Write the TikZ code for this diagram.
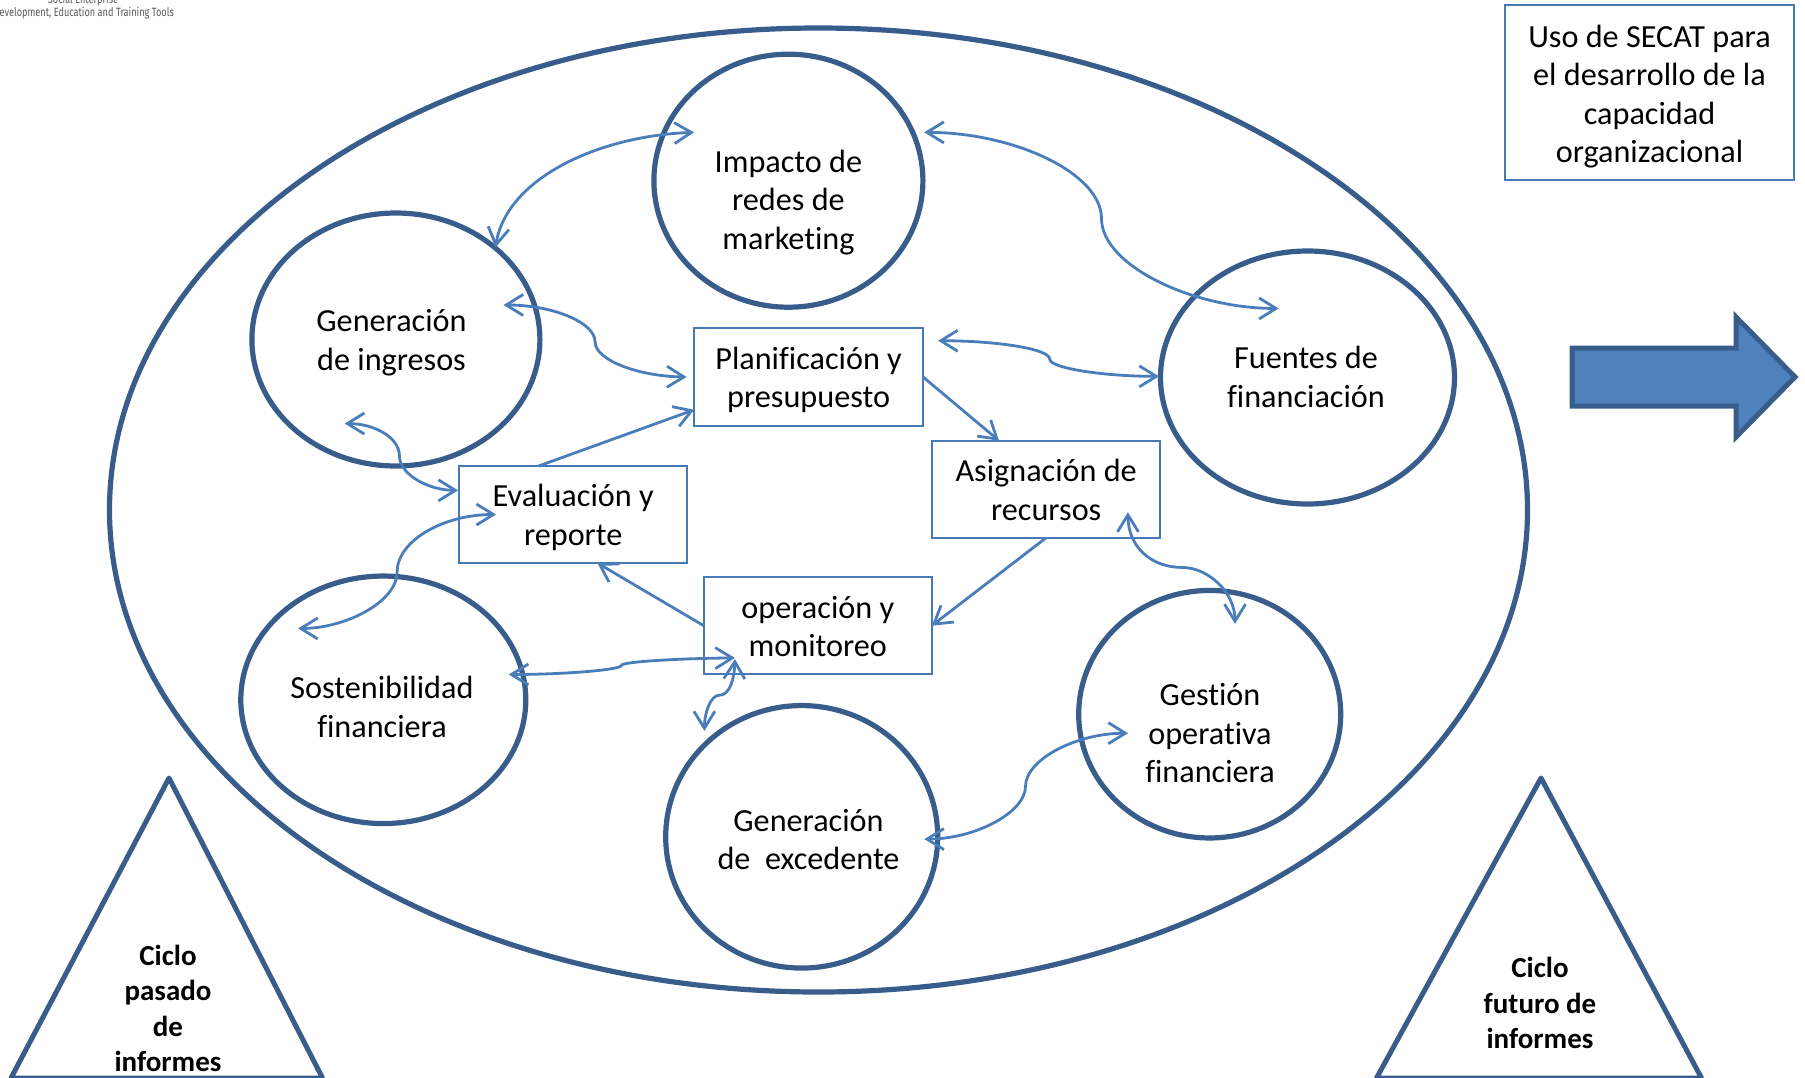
\documentclass[tikz,border=0pt]{standalone}
\usepackage{fontspec}
\usepackage{graphicx}
\setmainfont[Ligatures=NoCommon]{Carlito}
\newfontfamily\logofont{Fira Sans}
\usetikzlibrary{calc,arrows.meta}
\definecolor{ringblue}{HTML}{385D8A}
\definecolor{linkblue}{HTML}{4A7EBB}
\definecolor{fillblue}{HTML}{4F81BD}
\tikzset{
  x=1pt,y=-1pt,
  ring/.style={draw=ringblue,line width=5.2pt,ellipse,outer sep=0pt,inner sep=0pt,align=center,
    font=\fontsize{32.2}{38.5}\selectfont},
  labelbox/.style={draw=linkblue!85!ringblue,line width=2.4pt,rectangle,outer sep=0pt,inner sep=0pt,align=center,
    font=\fontsize{32.2}{38.5}\selectfont},
  ringline/.style={draw=ringblue,line width=5pt,line join=round},
  cycletext/.style={align=center,font=\bfseries\fontsize{29}{35.2}\selectfont},
  ringtext/.style={align=center,font=\fontsize{32.2}{38.5}\selectfont},
  biarrow/.style={draw=linkblue,line width=2.8pt,{Straight Barb[length=17pt,width=21pt]}-{Straight Barb[length=17pt,width=21pt]}},
  onearrow/.style={draw=linkblue,line width=2.8pt,-{Straight Barb[length=17pt,width=21pt]}},
}
\usetikzlibrary{shapes.geometric}
\begin{document}
\begin{tikzpicture}
\useasboundingbox (0,0) rectangle (1805,1077);
\clip (0,0) rectangle (1805,1077);
\fill[white] (0,0) rectangle (1805,1077);

% logo text
\node[anchor=base,font=\logofont\fontsize{12}{14}\selectfont,text=black!65] (logoa) at (83,3) {\scalebox{.765}[1]{Social Enterprise}};
\node[anchor=base east,font=\logofont\fontsize{12}{14}\selectfont,text=black!65,inner sep=0pt] (logob) at (174,16) {\scalebox{.765}[1]{Development, Education and Training Tools}};

% outer ellipse
\node[ring,minimum width=1418pt,minimum height=964pt] (outer) at (818.5,510) {};

% circles
\node[ring,minimum width=269pt,minimum height=253pt] (imp) at (788.4,180.7) {};
\node[ring,minimum width=288pt,minimum height=253pt] (gen) at (395.9,339.5) {};
\node[ring,minimum width=294pt,minimum height=253pt] (fue) at (1307.5,377.5) {};
\node[ring,minimum width=285pt,minimum height=247.5pt] (sos) at (383.3,699.8) {};
\node[ring,minimum width=272pt,minimum height=262.5pt] (exc) at (801.7,836.8) {};
\node[ring,minimum width=262pt,minimum height=247.5pt] (ges) at (1209.7,714.2) {};

% circle labels
\node[ringtext] (impt) at (788.4,202.5) {Impacto de\\redes de\\marketing};
\node[ringtext] (gent) at (391.5,342.5) {Generación\\de ingresos};
\node[ringtext] (fuet) at (1306,377) {Fuentes de\\financiación};
\node[ringtext] (sost) at (382,707) {Sostenibilidad\\financiera};
\node[ringtext] (exct) at (808.5,839.5) {Generación\\de\ \ excedente};
\node[ringtext] (gest) at (1210,733.5) {Gestión\\operativa\\financiera};

% boxes
\node[labelbox,minimum width=229pt,minimum height=98pt] (plan) at (808.6,377) {};
\node[ringtext] (plant) at (808.6,380) {Planificación y\\presupuesto};
\node[labelbox,minimum width=228pt,minimum height=97pt] (eva) at (573.2,514.5) {};
\node[ringtext] (evat) at (573.2,517.5) {Evaluación y\\reporte};
\node[labelbox,minimum width=228pt,minimum height=97pt] (asi) at (1046.2,489.2) {};
\node[ringtext] (asit) at (1046.2,490) {Asignación de\\recursos};
\node[labelbox,minimum width=228pt,minimum height=97pt] (ope) at (817.8,625.7) {};
\node[ringtext] (opet) at (817.8,626.5) {operación y\\monitoreo};
\node[labelbox,minimum width=289pt,minimum height=175pt] (secat) at (1649.5,92.5) {};
\node[ringtext] (secatt) at (1649.5,96.5) {Uso de SECAT para\\el desarrollo de la\\capacidad\\organizacional};

% block arrow
\draw[ringline,fill=fillblue,line width=5pt,line join=miter] (1572,348) -- (1736,348) -- (1736,317) -- (1795,377) -- (1736,437) -- (1736,406) -- (1572,406) -- cycle;

% triangles
\draw[ringline] (169,778) -- (11,1078) -- (322.5,1078) -- cycle;
\draw[ringline] (1541,778) -- (1376.5,1078) -- (1701.5,1078) -- cycle;
\node[cycletext] (pasado) at (168,1008.5) {Ciclo\\pasado\\de\\informes};
\node[cycletext] (futuro) at (1540,1003) {Ciclo\\futuro de\\informes};

% connectors, in units of the overview
\begin{scope}[x=1.151pt,y=-1.151pt]
\coordinate (e1a) at ($(imp)+(-82,-42)$);
\coordinate (e1b) at ($(gen)+(86.5,-80)$);
\coordinate (e2a) at ($(imp)+(118,-42)$);
\coordinate (e2b) at ($(fue)+(-25,-60)$);
\coordinate (e3a) at ($(gen)+(93.5,-30)$);
\coordinate (e3b) at ($(plan)+(-106,0)$);
\coordinate (e4a) at ($(plan)+(112.5,-31.5)$);
\coordinate (e4b) at ($(fue)+(-129,-1)$);
\coordinate (e5a) at ($(gen)+(-44.5,73)$);
\coordinate (e5b) at ($(eva)+(-100,-21)$);
\coordinate (e6a) at ($(eva)+(-67,0)$);
\coordinate (e6b) at ($(sos)+(-74,-62)$);
\coordinate (e7a) at ($(ope)+(-72,28)$);
\coordinate (e7b) at ($(sos)+(109,-22)$);
\coordinate (e8a) at ($(ope)+(-72,29)$);
\coordinate (e8b) at ($(exc)+(-84.5,-92)$);
\coordinate (e9a) at ($(ges)+(-71,16.5)$);
\coordinate (e9b) at ($(exc)+(106.5,2)$);
\coordinate (e10a) at ($(asi)+(71,20)$);
\coordinate (e10b) at ($(ges)+(22,-78.5)$);

\draw[biarrow] (e1a) .. controls (520,118) and (440,155) .. (e1b);
\draw[biarrow] (e2a) .. controls (880,115) and (957,150) .. (957,190) .. controls (957,230) and (1035,268) .. (e2b);
\draw[biarrow] (e3a) .. controls (480,265) and (517,280) .. (517,297) .. controls (517,313) and (555,327) .. (e3b);
\draw[biarrow] (e4a) .. controls (865,296) and (912,303) .. (912,312) .. controls (912,320) and (960,327) .. (e4b);
\draw[biarrow] (e5a) .. controls (325,368) and (347,380) .. (347,396) .. controls (347,412) and (372,426) .. (e5b);
\draw[biarrow] (e6a) .. controls (385,447) and (345,470) .. (345,497) .. controls (345,523) and (300,546) .. (e6b);
\draw[biarrow] (e7a) .. controls (590,572) and (540,575) .. (540,578) .. controls (540,582) and (490,586) .. (e7b);
\draw[biarrow] (e8a) .. controls (638,590) and (634,604) .. (625,604) .. controls (617,604) and (612,620) .. (e8b);
\draw[biarrow] (e9a) .. controls (935,637) and (891,660) .. (891,683) .. controls (891,706) and (847,729) .. (e9b);
\draw[biarrow] (e10a) .. controls (980,475) and (1000,493) .. (1027,493) .. controls (1050,493) and (1073,515) .. (e10b);

\draw[onearrow] (plan.east) -- ($(asi.north)+(-41,0)$);
\draw[onearrow] (asi.south) -- (ope.east);
\draw[onearrow] (ope.west) -- ($(eva.south)+(21,0)$);
\draw[onearrow] ($(eva.north)+(-30,0)$) -- ($(plan.west)+(0,28.5)$);
\end{scope}
\end{tikzpicture}
\end{document}
